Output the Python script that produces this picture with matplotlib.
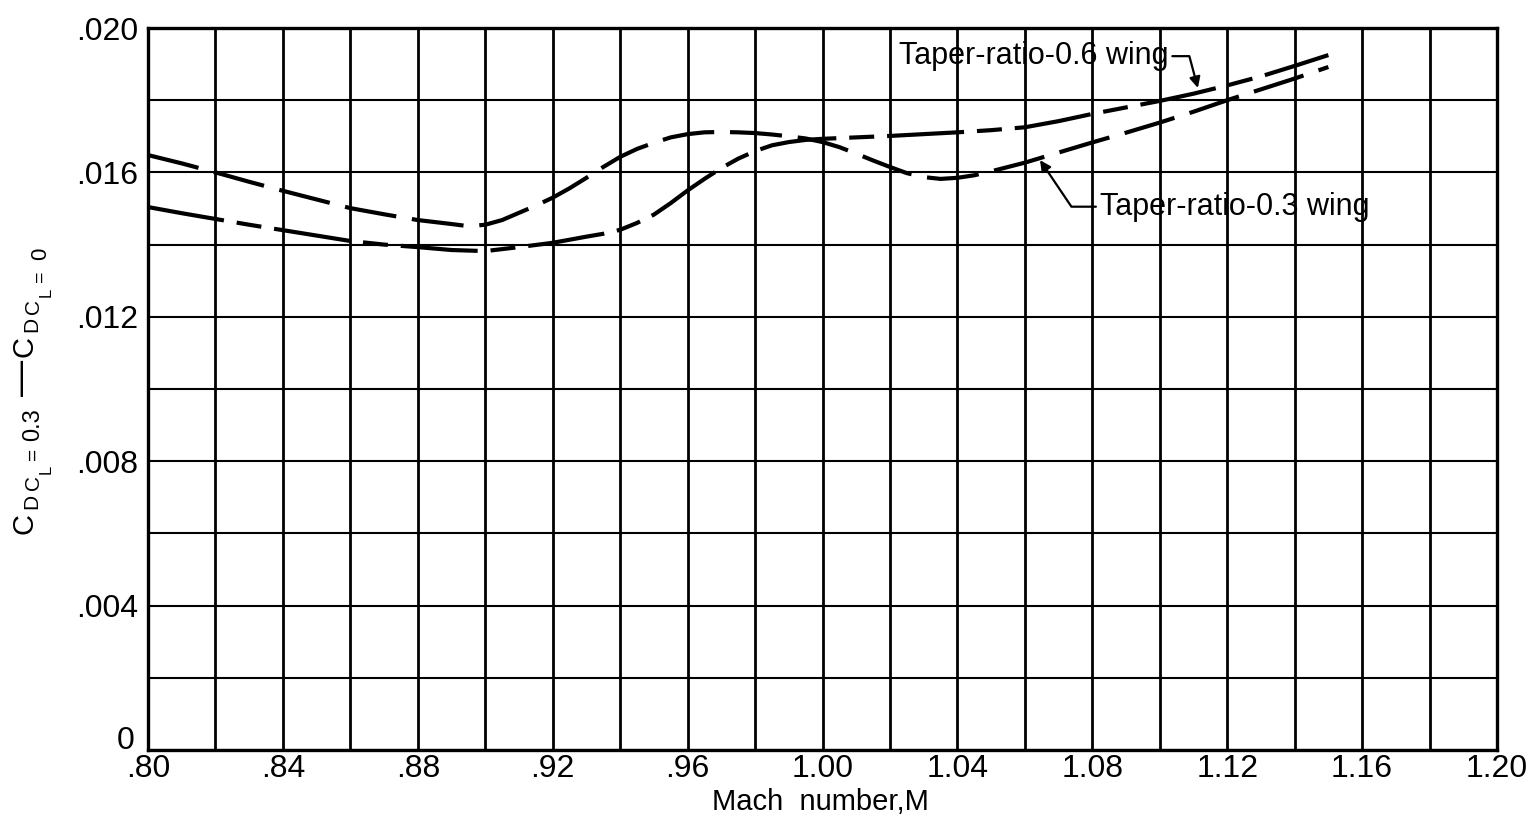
import matplotlib
matplotlib.use("Agg")
import matplotlib.pyplot as plt
import matplotlib.transforms as mtransforms
from matplotlib.ticker import MultipleLocator

plt.rcParams['font.family'] = ['Liberation Sans', 'DejaVu Sans']

# Taper-ratio-0.3 wing: Mach number and drag-coefficient increment
mach_03 = [0.80, 0.81, 0.82, 0.83, 0.84, 0.85, 0.86, 0.87, 0.88, 0.89,
           0.895, 0.90, 0.905, 0.91, 0.915, 0.92, 0.925, 0.93, 0.935, 0.94,
           0.945, 0.95, 0.955, 0.96, 0.965, 0.97, 0.975, 0.98, 0.985, 0.99,
           0.995, 1.00, 1.005, 1.01, 1.015, 1.02, 1.025, 1.03, 1.035, 1.04,
           1.045, 1.05, 1.06, 1.07, 1.08, 1.09, 1.10, 1.11, 1.12, 1.13,
           1.14, 1.15]
dcd_03 = [0.01648, 0.01625, 0.01600, 0.01574, 0.01549, 0.01525, 0.01501, 0.01484, 0.01468, 0.01457,
          0.01451, 0.01455, 0.01468, 0.01488, 0.01508, 0.01530, 0.01556, 0.01585, 0.01615, 0.01643,
          0.01665, 0.01682, 0.01697, 0.01706, 0.01711, 0.01712, 0.01711, 0.01709, 0.01705, 0.01700,
          0.01694, 0.01684, 0.01670, 0.01652, 0.01633, 0.01615, 0.01598, 0.01587, 0.01582, 0.01585,
          0.01592, 0.01603, 0.01627, 0.01655, 0.01683, 0.01710, 0.01738, 0.01768, 0.01800, 0.01830,
          0.01860, 0.01892]

# Taper-ratio-0.6 wing: Mach number and drag-coefficient increment
mach_06 = [0.80, 0.81, 0.82, 0.83, 0.84, 0.85, 0.86, 0.87, 0.88, 0.89,
           0.90, 0.91, 0.92, 0.93, 0.935, 0.94, 0.945, 0.95, 0.955, 0.96,
           0.965, 0.97, 0.975, 0.98, 0.985, 0.99, 0.995, 1.00, 1.01, 1.02,
           1.03, 1.04, 1.05, 1.06, 1.07, 1.08, 1.09, 1.10, 1.11, 1.12,
           1.13, 1.14, 1.15]
dcd_06 = [0.01504, 0.01487, 0.01471, 0.01455, 0.01440, 0.01425, 0.01410, 0.01400, 0.01393, 0.01385,
          0.01382, 0.01393, 0.01405, 0.01422, 0.01430, 0.01441, 0.01460, 0.01483, 0.01515, 0.01550,
          0.01582, 0.01612, 0.01638, 0.01659, 0.01675, 0.01684, 0.01690, 0.01693, 0.01697, 0.01701,
          0.01706, 0.01711, 0.01717, 0.01725, 0.01742, 0.01762, 0.01780, 0.01798, 0.01818, 0.01841,
          0.01866, 0.01895, 0.01925]

x_ticks = [0.80, 0.84, 0.88, 0.92, 0.96, 1.00, 1.04, 1.08, 1.12, 1.16, 1.20]
x_tick_labels = ['.80', '.84', '.88', '.92', '.96', '1.00', '1.04', '1.08', '1.12', '1.16', '1.20']
y_ticks = [0.0, 0.004, 0.008, 0.012, 0.016, 0.020]
y_tick_labels = ['0', '.004', '.008', '.012', '.016', '.020']

W, H = 1529, 819
fig = plt.figure(figsize=(W / 100, H / 100), dpi=100)
ax = fig.add_axes([148 / W, 1 - 750 / H, (1497 - 148) / W, (750 - 28) / H])

ax.set_xlim(0.80, 1.20)
ax.set_ylim(0.0, 0.020)

ax.set_xticks(x_ticks)
ax.set_xticklabels(x_tick_labels)
ax.set_yticks(y_ticks)
ax.set_yticklabels(y_tick_labels)
ax.xaxis.set_minor_locator(MultipleLocator(0.02))
ax.yaxis.set_minor_locator(MultipleLocator(0.002))
ax.tick_params(which='both', length=0, labelsize=23, colors='black')
ax.tick_params(axis='x', pad=3)
ax.tick_params(axis='y', pad=7)

# lift the "0" at the origin a little so it clears the ".80" below it
zero_label = ax.get_yticklabels()[0]
zero_label.set_transform(zero_label.get_transform() +
                         mtransforms.ScaledTranslation(-3 / 72, 9 / 72, fig.dpi_scale_trans))

ax.grid(True, which='both', axis='x', color='black', lw=2.0)
ax.grid(True, which='both', axis='y', color='black', lw=1.5)
ax.set_axisbelow(True)
for s in ax.spines.values():
    s.set_linewidth(2.4)
    s.set_color('black')

ax.plot(mach_03, dcd_03, color='black', lw=3.0,
        linestyle=(0, (12.5, 3.8)), solid_capstyle='butt', dash_capstyle='butt')
ax.plot(mach_06, dcd_06, color='black', lw=3.0,
        linestyle=(0, (18.5, 3.1, 6.0, 3.1)), solid_capstyle='butt', dash_capstyle='butt')

ax.annotate('Taper-ratio-0.6 wing', xy=(1.1113, 0.01834), xytext=(1.1025, 0.01922),
            ha='right', va='center', fontsize=22,
            arrowprops=dict(arrowstyle='-|>', color='black', lw=1.6, mutation_scale=16,
                            shrinkA=1, shrinkB=0,
                            connectionstyle='angle,angleA=0,angleB=105,rad=0'))
ax.annotate('Taper-ratio-0.3 wing', xy=(1.0645, 0.01634), xytext=(1.0823, 0.01505),
            ha='left', va='center', fontsize=22,
            arrowprops=dict(arrowstyle='-|>', color='black', lw=1.6, mutation_scale=16,
                            shrinkA=1, shrinkB=0,
                            connectionstyle='angle,angleA=0,angleB=124,rad=0'))

fig.text(820 / W, 1 - 802 / H, 'Mach  number,M', ha='center', va='center', fontsize=21)


def vtext(x_px, y_px, s, size):
    fig.text(x_px / W, 1 - y_px / H, s, rotation=90, ha='center', va='center', fontsize=size)


# Vertical axis title, lettered piece by piece (reads bottom to top)
vtext(25, 523, 'C', 21)
vtext(32, 501, 'D', 15)
vtext(34, 483, 'C', 15)
vtext(46, 469, 'L', 12)
vtext(33, 454, '=', 15)
vtext(33, 425, '0.3', 17)
vtext(22, 378, '\u2014', 26)
vtext(25, 346, 'C', 21)
vtext(32, 324, 'D', 15)
vtext(34, 306, 'C', 15)
vtext(46, 292, 'L', 12)
vtext(40, 276, '=', 14)
vtext(41, 254, '0', 16)

fig.savefig('out.png', dpi=100, facecolor='white')
